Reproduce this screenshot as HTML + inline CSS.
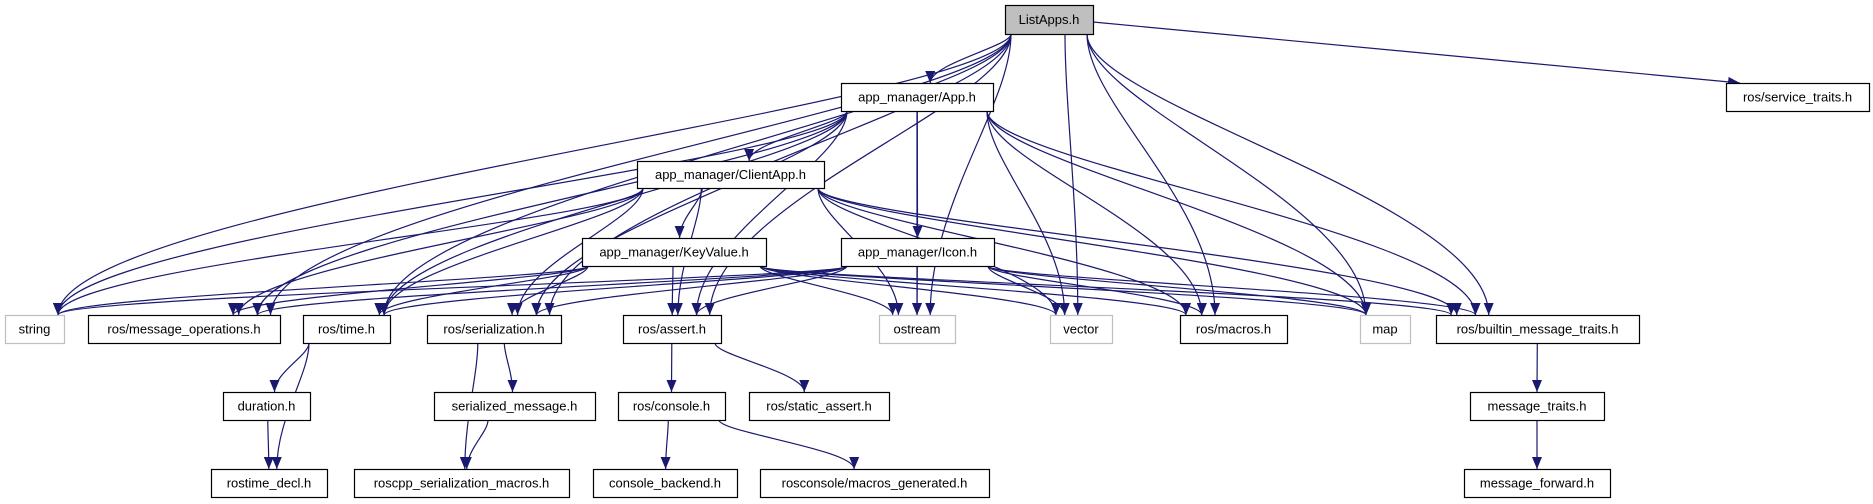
<!DOCTYPE html>
<html><head><meta charset="utf-8"><style>
html,body{margin:0;padding:0;background:#fff;}
svg{display:block;}
text{font-family:"Liberation Sans",sans-serif;font-size:13px;}
</style></head><body>
<svg id="g" width="1873" height="504" xmlns="http://www.w3.org/2000/svg">
<defs><marker id="a" markerWidth="12" markerHeight="10" refX="12" refY="5" orient="auto" markerUnits="userSpaceOnUse"><path d="M0,0 L12,5 L0,10 z" fill="#191970"/></marker></defs>
<g id="edges" fill="none" stroke="#191970" stroke-width="1.2"></g>
<g id="nodes"></g>
</svg>
<script>
var N={
LA:[1005,5,1093,34,"ListApps.h",2],
APP:[841,83,993,111,"app_manager/App.h",0],
ST:[1726,83,1869,111,"ros/service_traits.h",0],
CA:[637,161,824,188,"app_manager/ClientApp.h",0],
KV:[582,238,766,266,"app_manager/KeyValue.h",0],
IC:[841,238,994,266,"app_manager/Icon.h",0],
STR:[5,315,64,343,"string",1],
MO:[88,315,280,343,"ros/message_operations.h",0],
TI:[303,315,390,343,"ros/time.h",0],
SE:[427,315,561,343,"ros/serialization.h",0],
AS:[623,315,721,343,"ros/assert.h",0],
OS:[879,315,955,343,"ostream",1],
VE:[1050,315,1112,343,"vector",1],
MA:[1180,315,1287,343,"ros/macros.h",0],
MP:[1360,315,1410,343,"map",1],
BI:[1436,315,1639,343,"ros/builtin_message_traits.h",0],
DU:[223,392,310,420,"duration.h",0],
SM:[434,392,595,420,"serialized_message.h",0],
CO:[618,392,725,420,"ros/console.h",0],
SA:[749,392,889,420,"ros/static_assert.h",0],
MT:[1470,392,1604,420,"message_traits.h",0],
RD:[211,469,327,497,"rostime_decl.h",0],
RS:[354,469,569,497,"roscpp_serialization_macros.h",0],
CB:[593,469,737,497,"console_backend.h",0],
MG:[760,469,989,497,"rosconsole/macros_generated.h",0],
MF:[1464,469,1610,497,"message_forward.h",0]
};
var common=["STR","MO","TI","SE","AS","OS","VE","MA","MP","BI"];
var E=[];
["LA","APP","CA","KV","IC"].forEach(function(s){common.forEach(function(t){E.push([s,t]);});});
E.push(["LA","APP"],["LA","ST"],["APP","CA"],["APP","IC"],["CA","KV"],
["TI","DU"],["TI","RD"],["DU","RD"],["SE","SM"],["SE","RS"],["SM","RS"],
["AS","CO"],["AS","SA"],["CO","CB"],["CO","MG"],["BI","MT"],["MT","MF"]);
var ns="http://www.w3.org/2000/svg",eg=document.getElementById("edges"),ng=document.getElementById("nodes");
function cl(v,a,b){return Math.max(a,Math.min(b,v));}
E.forEach(function(e){
 var s=N[e[0]],t=N[e[1]];
 var scx=(s[0]+s[2])/2,tcx=(t[0]+t[2])/2;
 var sx,sy,tx,ty,d;
 if(e[0]=="LA"&&e[1]=="ST"){
  d="M1093,22 L1740,83";
 } else {
  sx=cl(scx+(tcx-scx)*0.5,s[0]+6,s[2]-6);sy=s[3];
  tx=cl(tcx+(scx-tcx)*0.1,t[0]+6,t[2]-6);ty=t[1];
  var dy=ty-sy;
  d="M"+sx.toFixed(1)+","+sy+" C"+sx.toFixed(1)+","+(sy+dy*0.25).toFixed(1)+" "+tx.toFixed(1)+","+(ty-dy*0.4).toFixed(1)+" "+tx.toFixed(1)+","+ty;
 }
 var p=document.createElementNS(ns,"path");p.setAttribute("d",d);p.setAttribute("marker-end","url(#a)");eg.appendChild(p);
});
for(var k in N){var n=N[k];
 var r=document.createElementNS(ns,"rect");
 r.setAttribute("x",n[0]+0.5);r.setAttribute("y",n[1]+0.5);r.setAttribute("width",n[2]-n[0]);r.setAttribute("height",n[3]-n[1]);
 r.setAttribute("fill",n[5]==2?"#bfbfbf":"#fff");r.setAttribute("stroke",n[5]==1?"#bfbfbf":"#000");r.setAttribute("stroke-width","1.2");
 ng.appendChild(r);
 var tx=document.createElementNS(ns,"text");tx.setAttribute("x",(n[0]+n[2])/2);tx.setAttribute("y",(n[1]+n[3])/2+4.5);tx.setAttribute("text-anchor","middle");tx.textContent=n[4];ng.appendChild(tx);
}
</script>
</body></html>
